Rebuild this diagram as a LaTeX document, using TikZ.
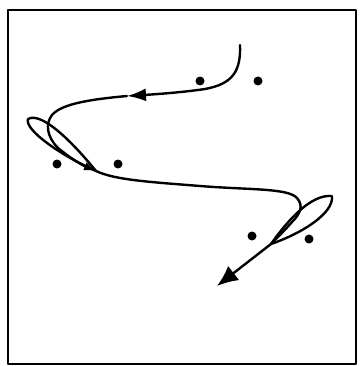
\documentclass[tikz,border=0pt]{standalone}
\usetikzlibrary{arrows.meta}
\begin{document}
\begin{tikzpicture}[x=1pt,y=-1pt,line width=2.4pt,line cap=round,line join=round,
  bigtip/.style={-{Latex[length=21pt,width=18pt]}},
  midtip/.style={-{Latex[length=19pt,width=13pt]}},
  smalltip/.style={-{Latex[length=12pt,width=9pt]}},
  player/.style={circle,fill=black,draw=none,inner sep=0pt,minimum size=9pt}]
\useasboundingbox (0,0) rectangle (360,366);
\draw[line width=1.7pt] (8,10) rectangle (356,364);
% players
\node[player] (p1) at (200,81) {};
\node[player] (p2) at (258,81) {};
\node[player] (p3) at (57,164) {};
\node[player] (p4) at (118,164) {};
\node[player] (p5) at (252,236) {};
\node[player] (p6) at (309,239) {};
% key points of the run
\coordinate (s) at (240,45);
\coordinate (m) at (127,96);
\coordinate (a) at (96,171);
\coordinate (ta) at (28,119);
\coordinate (b) at (271,244);
\coordinate (tb) at (332,196);
\coordinate (e) at (217,286);
% first part with arrow in the middle
\draw[midtip] (s) .. controls (241,72) and (232,84) .. (205,89) .. controls (185,92) and (160,94) .. (m);
\draw (m) .. controls (95,99) and (62,103) .. (52,115) .. controls (45,124) and (47,137) .. (58,148);
\draw[smalltip] (58,148) .. controls (70,158) and (82,165) .. (a);
% left loop
\draw (a) .. controls (74,144) and (42,111) .. (ta) .. controls (24,130) and (62,156) .. (a);
% middle part
\draw (a) .. controls (115,180) and (150,182) .. (200,186) .. controls (250,190) and (288,188) .. (297,198) .. controls (304,206) and (300,214) .. (292,222) .. controls (285,230) and (277,238) .. (b);
% right loop
\draw (b) .. controls (288,220) and (311,194) .. (tb) .. controls (334,214) and (300,234) .. (b);
% final arrow
\draw[bigtip] (b) -- (e);
\end{tikzpicture}
\end{document}
